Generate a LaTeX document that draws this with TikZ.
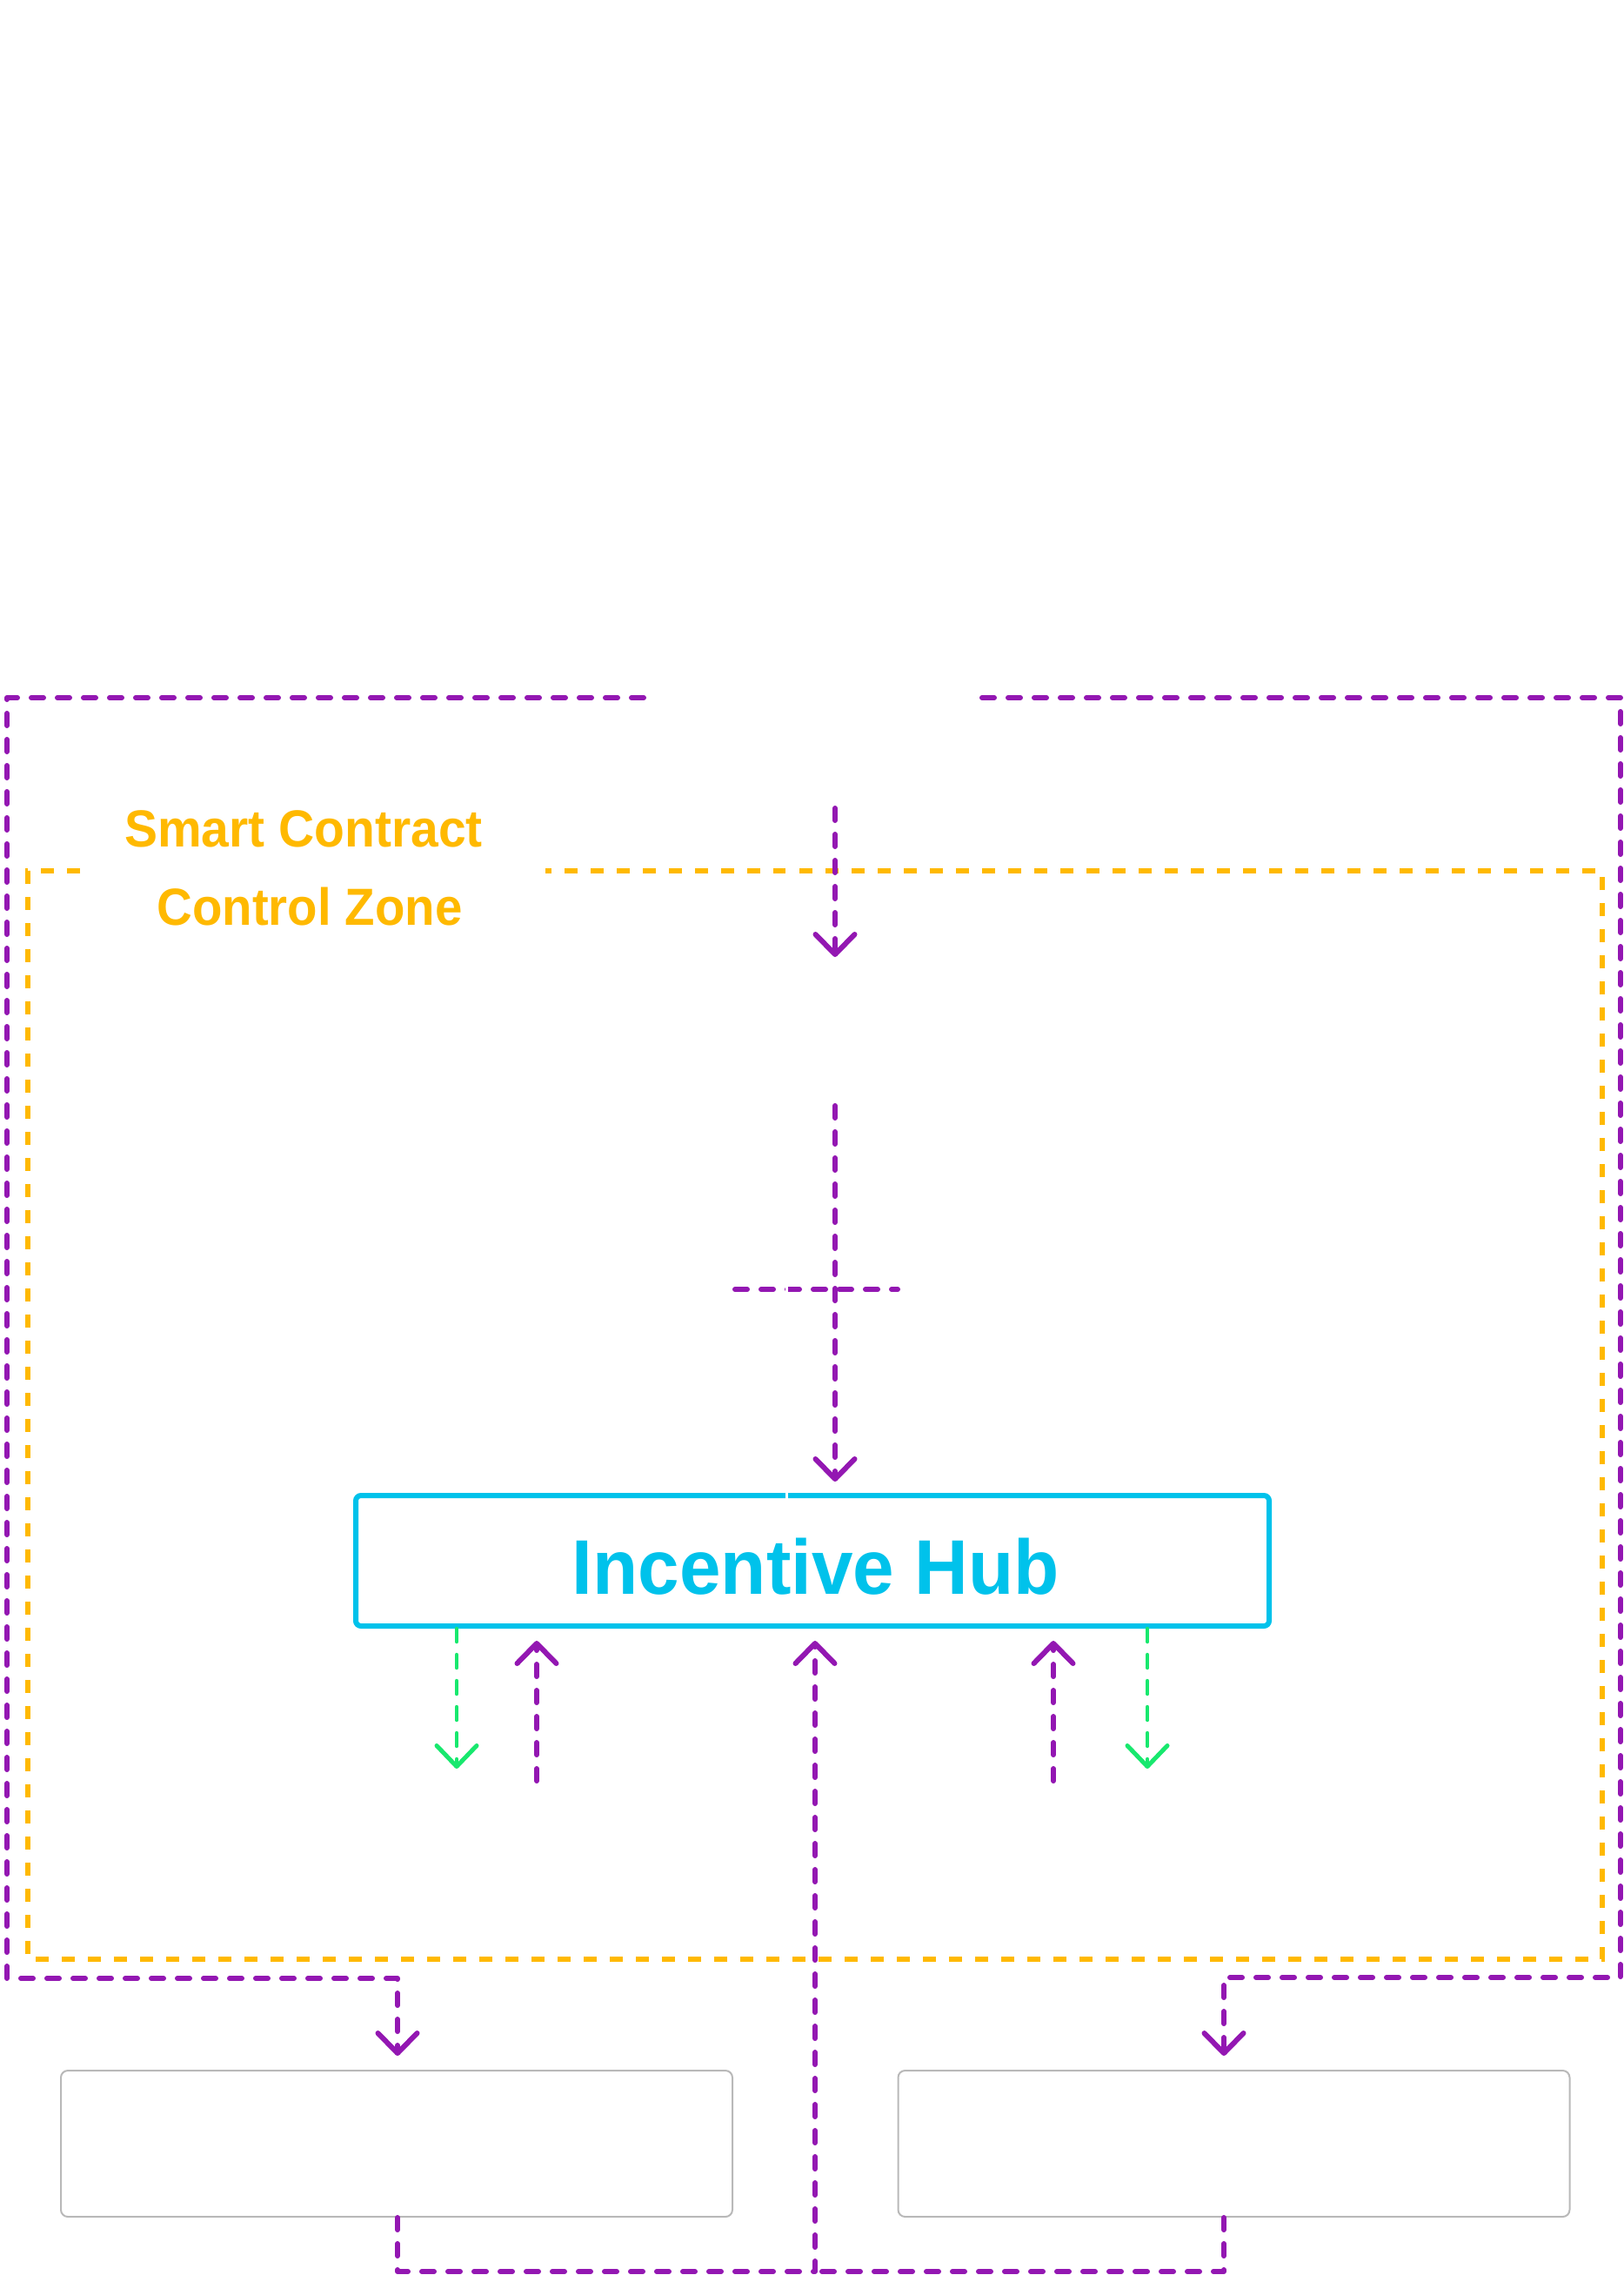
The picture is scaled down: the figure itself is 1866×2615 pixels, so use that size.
\documentclass[tikz,border=0pt]{standalone}
\usepackage{graphicx}
\usepackage{fontspec}
\setmainfont{Liberation Sans}
\usetikzlibrary{arrows.meta}
\definecolor{pur}{RGB}{147,23,178}
\definecolor{amb}{RGB}{255,185,0}
\definecolor{cyn}{RGB}{0,194,235}
\definecolor{grn}{RGB}{24,232,110}
\definecolor{gry}{RGB}{185,185,185}
\begin{document}
\begin{tikzpicture}[x=1pt,y=-1pt,
  purline/.style={draw=pur, line width=6pt, dash pattern=on 14pt off 16pt, line cap=round, line join=round},
  purarrow/.style={purline, -{Straight Barb[length=23pt,width=45pt,line width=6pt,round]}},
  grnarrow/.style={draw=grn, line width=4.5pt, dash pattern=on 15pt off 15pt, line cap=round, -{Straight Barb[length=24pt,width=46pt,line width=5pt,round]}},
  zoneline/.style={draw=amb, line width=6pt, dash pattern=on 15pt off 15pt, line cap=butt},
  hubbox/.style={draw=cyn, line width=6pt, rounded corners=6pt, minimum width=1050pt, minimum height=150pt, inner sep=0pt},
  outbox/.style={draw=gry, line width=2pt, rounded corners=8pt, minimum width=772pt, minimum height=168pt, inner sep=0pt},
  zonetext/.style={text=amb, font=\fontsize{60}{72}\selectfont\bfseries, anchor=base, inner sep=0pt},
  hubtext/.style={text=cyn, font=\fontsize{89}{100}\selectfont\bfseries, anchor=base, inner sep=0pt},
]
\fill[white] (0,0) rectangle (1866,2615);
\useasboundingbox (0,0) rectangle (1866,2615);

% Smart contract control zone
\draw[zoneline] (92,1001) -- (32,1001) -- (32,2252) -- (1842,2252) -- (1842,1001) -- (627,1001);
\node[zonetext] (zt1) at (349,973) {\scalebox{0.95}[1]{Smart Contract}};
\node[zonetext] (zt2) at (356,1063) {\scalebox{0.94}[1]{Control Zone}};

% nodes
\node[hubbox] (hub) at (934,1794) {};
\node[hubtext] (hubt) at (938,1832) {\scalebox{0.96}[1]{Incentive Hub}};
\node[outbox] (boxl) at (456,2464) {};
\node[outbox] (boxr) at (1418.5,2464) {};

% outer purple loop
\coordinate (tl) at (740,802);
\coordinate (tlc) at (8,802);
\coordinate (blc) at (8,2274);
\coordinate (lt) at (457,2274);
\draw[purarrow, shorten >=16pt] (tl) -- (tlc) -- (blc) -- (lt) -- (lt |- boxl.north);
\coordinate (tr) at (1129,802);
\coordinate (trc) at (1863,802);
\coordinate (brc) at (1863,2273);
\coordinate (rt) at (1407,2273);
\draw[purarrow, shorten >=16pt] (tr) -- (trc) -- (brc) -- (rt) -- (rt |- boxr.north);

% bottom return
\coordinate (lb) at (457,2611);
\coordinate (cb) at (937,2611);
\coordinate (rb) at (1407,2611);
\draw[purline] (rb |- boxr.south) -- (rb) -- (cb);
\draw[purarrow, shorten >=14pt] (lb |- boxl.south) -- (lb) -- (cb) -- (cb |- hub.south);

% top arrows
\coordinate (a1s) at (960,929);
\coordinate (a1e) at (960,1100);
\draw[purarrow] (a1s) -- (a1e);
\coordinate (a2s) at (960,1271);
\draw[purarrow, shorten >=13pt] (a2s) -- (a2s |- hub.north);
\coordinate (h1) at (845,1482);
\coordinate (h2) at (1032,1482);
\draw[purline] (h1) -- (h2);

% below hub
\coordinate (g1) at (525,2033);
\draw[grnarrow] (g1 |- hub.south) -- (g1);
\coordinate (u1) at (617,2047);
\draw[purarrow, shorten >=14pt] (u1) -- (u1 |- hub.south);
\coordinate (u2) at (1211,2047);
\draw[purarrow, shorten >=14pt] (u2) -- (u2 |- hub.south);
\coordinate (g2) at (1319,2033);
\draw[grnarrow] (g2 |- hub.south) -- (g2);

% thin white cut line
\coordinate (w1) at (904,995);
\coordinate (w2) at (904,1723);
\draw[white, line width=3pt] (w1) -- (w2);
\end{tikzpicture}
\end{document}
